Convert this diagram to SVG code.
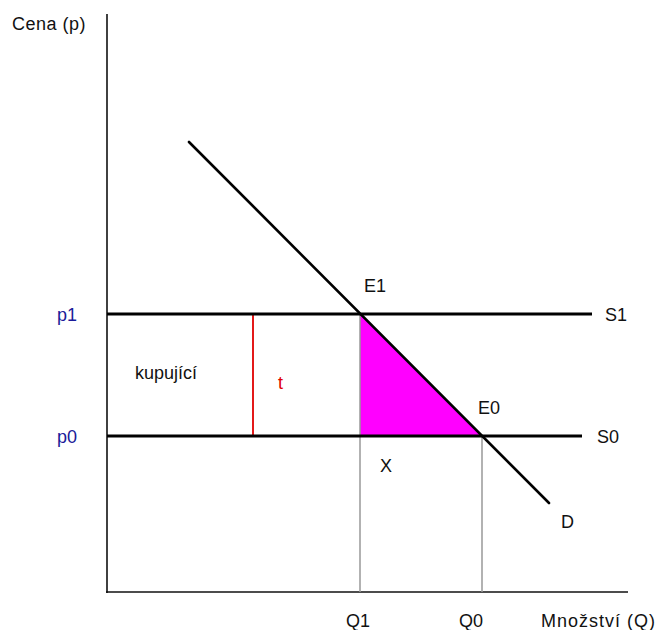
<svg xmlns="http://www.w3.org/2000/svg" width="665" height="630" viewBox="0 0 665 630">
<style>
text{font-family:"Liberation Sans",Arial,sans-serif;font-size:18px;fill:#111}
.blue{fill:#1a1a99}
.red{fill:#e00000}
.axis{stroke:#111;stroke-width:1.6;fill:none}
.thick{stroke:#000;stroke-width:3.2;fill:none}
.thin{stroke:#999;stroke-width:1.5;fill:none}
</style>
<rect width="665" height="630" fill="#fff"/>
<g id="area"><polygon points="360,314 360,436 482,436" fill="#ff00ff"/></g>
<g id="connectors">
<line class="axis" x1="107" y1="14" x2="107" y2="593"/>
<line class="axis" x1="106" y1="592" x2="628" y2="592"/>
<line class="thin" x1="360" y1="314" x2="360" y2="592"/>
<line class="thin" x1="482" y1="436" x2="482" y2="592"/>
<line x1="253" y1="314" x2="253" y2="436" stroke="#e00000" stroke-width="1.8"/>
<line class="thick" x1="107" y1="314" x2="592" y2="314"/>
<line class="thick" x1="107" y1="436" x2="582" y2="436"/>
<line x1="189" y1="142" x2="549" y2="503" stroke="#000" stroke-width="2.6" stroke-linecap="round"/>
</g>
<g id="labels">
<text x="12" y="30" letter-spacing="0.5">Cena (p)</text>
<text class="blue" x="57" y="321">p1</text>
<text class="blue" x="57" y="443">p0</text>
<text x="605" y="321">S1</text>
<text x="597" y="443">S0</text>
<text x="364" y="292">E1</text>
<text x="478" y="414">E0</text>
<text x="380" y="472">X</text>
<text x="561" y="528">D</text>
<text x="346" y="627">Q1</text>
<text x="459" y="627">Q0</text>
<text x="541" y="627" letter-spacing="1">Množství (Q)</text>
<text x="135" y="379">kupující</text>
<text class="red" x="278" y="389">t</text>
</g>
</svg>
